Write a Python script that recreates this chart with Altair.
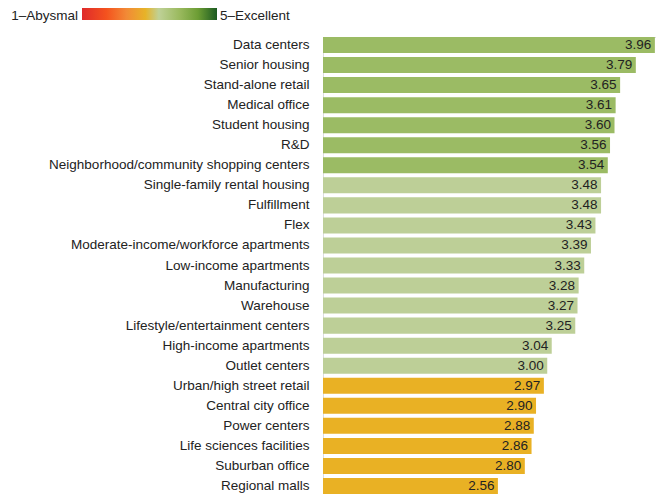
import altair as alt
import pandas as pd

categories = [
    "Data centers", "Senior housing", "Stand-alone retail", "Medical office",
    "Student housing", "R&D", "Neighborhood/community shopping centers",
    "Single-family rental housing", "Fulfillment", "Flex",
    "Moderate-income/workforce apartments", "Low-income apartments",
    "Manufacturing", "Warehouse", "Lifestyle/entertainment centers",
    "High-income apartments", "Outlet centers", "Urban/high street retail",
    "Central city office", "Power centers", "Life sciences facilities",
    "Suburban office", "Regional malls",
]
values = [3.96, 3.79, 3.65, 3.61, 3.60, 3.56, 3.54, 3.48, 3.48, 3.43, 3.39,
          3.33, 3.28, 3.27, 3.25, 3.04, 3.00, 2.97, 2.90, 2.88, 2.86, 2.80, 2.56]
tiers = ["good"] * 7 + ["fair"] * 10 + ["poor"] * 6
tier_names = ["good", "fair", "poor"]
tier_colors = ["#9bbb64", "#bdcf97", "#e9b124"]

legend_low = "1\u2013Abysmal"
legend_high = "5\u2013Excellent"
gradient_stops = [
    (0.0, "#df2a2b"), (0.18, "#f4521e"), (0.33, "#f28a36"), (0.47, "#e7b328"),
    (0.57, "#bfd197"), (0.72, "#9bba5f"), (0.86, "#6c9d34"), (1.0, "#1b5a21"),
]

df = pd.DataFrame({"category": categories, "value": values, "tier": tiers})
df["label"] = df["value"].map(lambda v: f"{v:.2f}")

FONT = "Liberation Sans"
FS = 13.5

y_enc = alt.Y("category:N", sort=categories, title=None,
              scale=alt.Scale(paddingInner=0.2, paddingOuter=0),
              axis=alt.Axis(domain=False, ticks=False, labelPadding=14,
                            labelFontSize=FS, labelFont=FONT,
                            labelColor="#222222", labelLimit=400))
x_enc = alt.X("value:Q", scale=alt.Scale(domain=[1, 3.97], nice=False, zero=False),
              axis=None, title=None)

base = alt.Chart(df)
bars = base.mark_bar().encode(
    y=y_enc, x=x_enc, x2=alt.datum(1),
    color=alt.Color("tier:N", scale=alt.Scale(domain=tier_names, range=tier_colors),
                    legend=None),
)
texts = base.mark_text(align="right", baseline="middle", dx=-3.5, fontSize=FS,
                       font=FONT, color="#222222").encode(
    y=alt.Y("category:N", sort=categories), x="value:Q", text="label:N")

grad = alt.LinearGradient(
    gradient="linear", x1=0, x2=1, y1=0, y2=0,
    stops=[alt.GradientStop(offset=o, color=c) for o, c in gradient_stops],
)
leg_rect = alt.Chart(pd.DataFrame({"a": [0]})).mark_rect(fill=grad).encode(
    x=alt.value(-241), x2=alt.value(-106), y=alt.value(-30), y2=alt.value(-17))
leg_low = alt.Chart(pd.DataFrame({"t": [legend_low]})).mark_text(
    align="right", baseline="middle", fontSize=FS, font=FONT, color="#222222"
).encode(x=alt.value(-245), y=alt.value(-21.5), text="t:N")
leg_high = alt.Chart(pd.DataFrame({"t": [legend_high]})).mark_text(
    align="left", baseline="middle", fontSize=FS, font=FONT, color="#222222"
).encode(x=alt.value(-103), y=alt.value(-21.5), text="t:N")

chart = alt.layer(bars, texts, leg_rect, leg_low, leg_high).properties(
    width=333, height=457,
    autosize=alt.AutoSizeParams(type="none"),
    padding={"left": 315, "top": 29, "right": 0, "bottom": 0},
).configure_view(stroke=None).configure(background="white")

chart.save("out.html", embed_options={"renderer": "svg", "actions": False})
